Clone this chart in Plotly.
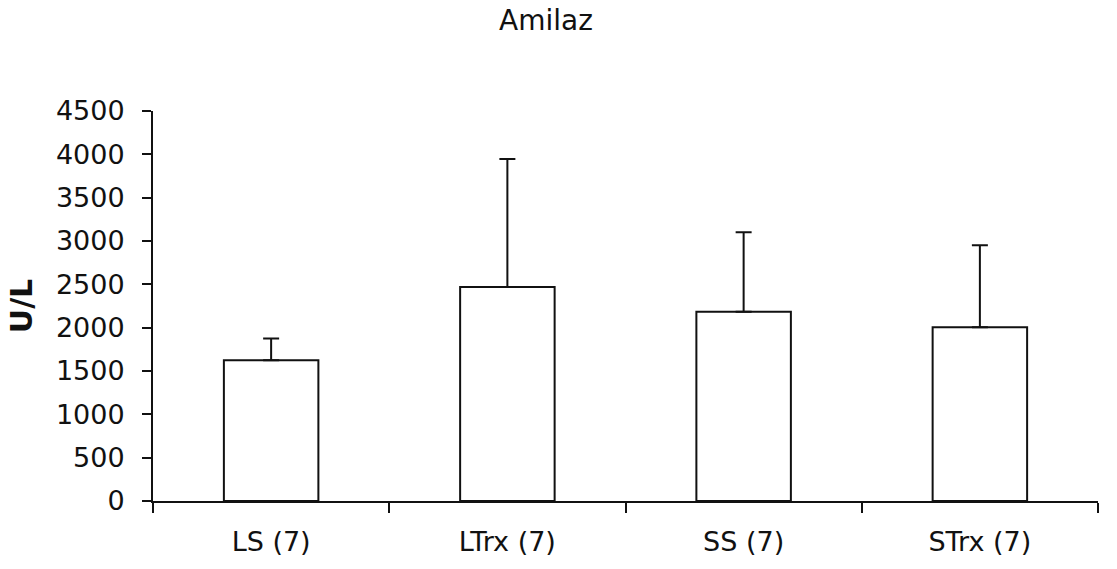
import plotly.graph_objects as go

categories = ["LS (7)", "LTrx (7)", "SS (7)", "STrx (7)"]
means = [1625, 2470, 2185, 2005]
errors = [250, 1475, 915, 945]
y_ticks = [0, 500, 1000, 1500, 2000, 2500, 3000, 3500, 4000, 4500]

FONT = "DejaVu Sans"
INK = "#111111"

fig = go.Figure()
fig.add_trace(go.Bar(
    x=categories,
    y=means,
    width=0.4,
    marker=dict(color="white", line=dict(color=INK, width=2)),
    error_y=dict(type="data", array=errors, symmetric=False, arrayminus=[0] * len(errors),
                 visible=True, color=INK, thickness=2, width=8),
    showlegend=False,
))

fig.update_layout(
    width=1117, height=569,
    margin=dict(l=153, r=19, t=111, b=68),
    paper_bgcolor="white", plot_bgcolor="white",
    title=dict(text="Amilaz", x=546 / 1117, xref="container", xanchor="center",
               y=1 - 20 / 569, yref="container", yanchor="middle",
               font=dict(family=FONT, size=28, color=INK)),
    font=dict(family=FONT, color=INK),
    bargap=0.6,
)
fig.update_xaxes(
    type="category", range=[-0.5, 3.5],
    showline=True, linecolor=INK, linewidth=2,
    ticks="outside", ticklen=10, tickwidth=2, tickcolor=INK,
    tickson="boundaries", showgrid=False, zeroline=False,
    tickfont=dict(family=FONT, size=27, color=INK),
    ticklabelstandoff=16,
)
fig.update_yaxes(
    range=[0, 4500], tickmode="array", tickvals=y_ticks,
    ticktext=[str(v) for v in y_ticks],
    showline=True, linecolor=INK, linewidth=2,
    ticks="outside", ticklen=9, tickwidth=2, tickcolor=INK,
    showgrid=False, zeroline=False,
    tickfont=dict(family=FONT, size=27, color=INK),
    ticklabelstandoff=12,
    title=dict(text="<b>U/L</b>", font=dict(family=FONT, size=30, color=INK), standoff=14),
)

fig.write_html("out.html")
